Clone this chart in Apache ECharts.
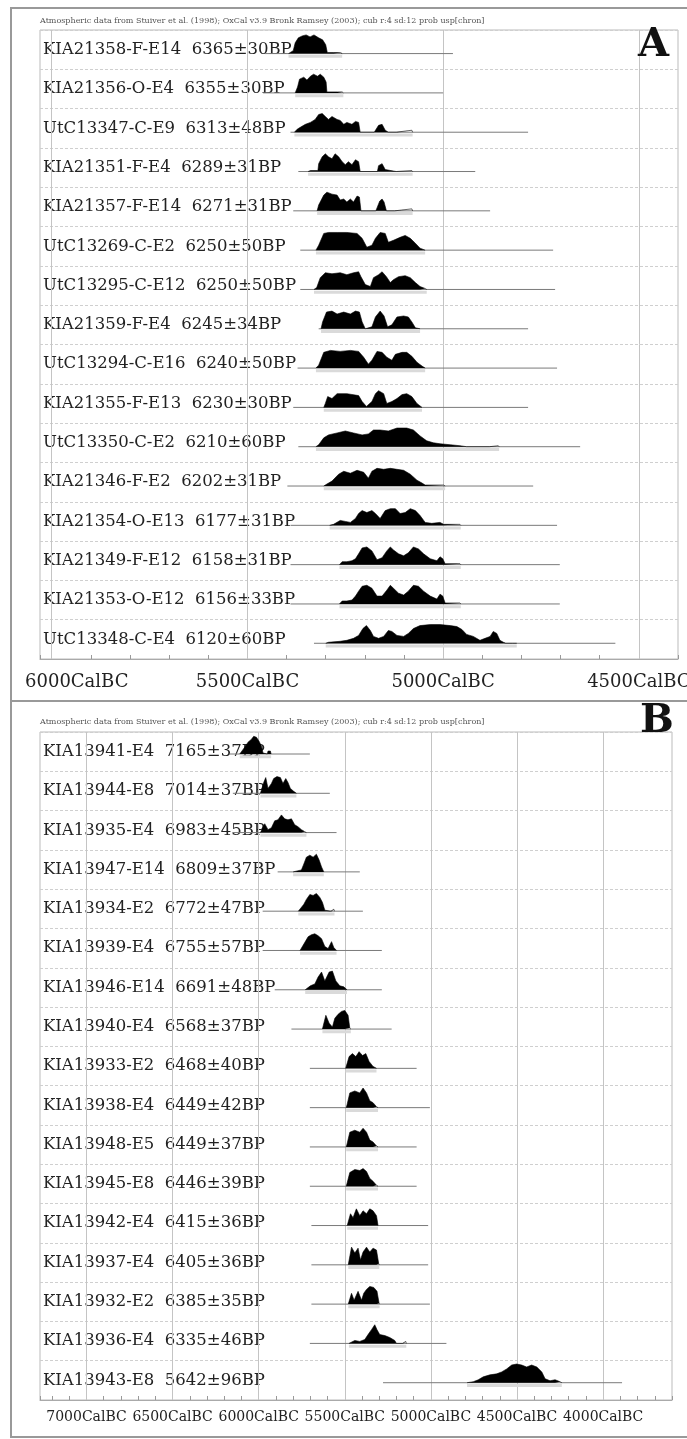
<!DOCTYPE html>
<html>
<head>
<meta charset="utf-8">
<title>Calibrated dates A / B</title>
<script src="https://cdn.jsdelivr.net/npm/echarts@6/dist/echarts.min.js"></script>
<style>
  html, body { margin: 0; padding: 0; background: #fff; }
  #chart { width: 687px; height: 1439px; }
</style>
</head>
<body>
<div id="chart"></div>
<script>
// header line printed above each plot
const headerText = 'Atmospheric data from Stuiver et al. (1998); OxCal v3.9 Bronk Ramsey (2003); cub r:4 sd:12 prob usp[chron]';

// ---- panel A ----
const labelsA = [
  'KIA21358-F-E14  6365±30BP', 'KIA21356-O-E4  6355±30BP', 'UtC13347-C-E9  6313±48BP',
  'KIA21351-F-E4  6289±31BP', 'KIA21357-F-E14  6271±31BP', 'UtC13269-C-E2  6250±50BP',
  'UtC13295-C-E12  6250±50BP', 'KIA21359-F-E4  6245±34BP', 'UtC13294-C-E16  6240±50BP',
  'KIA21355-F-E13  6230±30BP', 'UtC13350-C-E2  6210±60BP', 'KIA21346-F-E2  6202±31BP',
  'KIA21354-O-E13  6177±31BP', 'KIA21349-F-E12  6158±31BP', 'KIA21353-O-E12  6156±33BP',
  'UtC13348-C-E4  6120±60BP'
];
// probability curves: [year BC, relative density]
const distA = [
  [[5395,0],[5383,3],[5378,11],[5370,16],[5360,18],[5350,19],[5340,17],[5330,19],[5318,16],[5308,14],[5300,9],[5296,1],[5280,1],[5262,1],[5258,0]],
  [[5378,0],[5372,6],[5367,14],[5356,16],[5348,13],[5339,17],[5331,19],[5321,17],[5314,19],[5305,16],[5299,11],[5297,1],[5270,1],[5258,1],[5255,0]],
  [[5380,0],[5373,3],[5365,5],[5352,8],[5339,10],[5327,13],[5318,18],[5309,19],[5301,16],[5293,13],[5284,16],[5271,13],[5263,12],[5254,8],[5246,10],[5233,8],[5224,11],[5216,10],[5212,0],[5176,0],[5173,1],[5165,7],[5156,8],[5148,2],[5140,0],[5120,0],[5118,2],[5080,2],[5078,0]],
  [[5345,0],[5339,1],[5320,1],[5318,8],[5309,15],[5301,18],[5293,15],[5284,13],[5276,18],[5267,15],[5258,10],[5250,7],[5242,10],[5233,7],[5224,12],[5216,10],[5212,0],[5168,0],[5165,6],[5156,8],[5148,2],[5145,0],[5120,0],[5118,1],[5080,1],[5078,0]],
  [[5322,0],[5318,6],[5305,16],[5297,19],[5284,17],[5271,16],[5263,11],[5254,12],[5246,9],[5237,12],[5229,9],[5220,15],[5214,14],[5210,0],[5172,0],[5169,3],[5162,10],[5156,12],[5151,9],[5145,0],[5124,0],[5122,2],[5080,2],[5078,0]],
  [[5325,0],[5318,5],[5305,17],[5293,18],[5271,18],[5246,18],[5220,17],[5207,12],[5195,3],[5182,5],[5173,12],[5161,18],[5148,17],[5140,8],[5127,10],[5110,13],[5097,15],[5084,12],[5071,7],[5059,2],[5046,0]],
  [[5330,0],[5323,2],[5314,12],[5301,17],[5284,16],[5263,17],[5246,15],[5229,17],[5216,18],[5210,13],[5199,5],[5186,3],[5178,12],[5165,15],[5156,18],[5145,13],[5135,7],[5127,10],[5114,13],[5097,14],[5084,12],[5071,7],[5059,3],[5046,1],[5042,0]],
  [[5312,0],[5308,7],[5298,17],[5284,18],[5271,15],[5254,17],[5237,15],[5224,18],[5214,17],[5207,7],[5199,0],[5182,2],[5173,12],[5161,18],[5151,13],[5142,2],[5131,4],[5118,12],[5101,13],[5089,12],[5080,7],[5071,1],[5059,0]],
  [[5325,0],[5318,3],[5305,16],[5288,18],[5263,17],[5237,18],[5216,17],[5203,11],[5191,4],[5182,8],[5169,17],[5156,16],[5144,11],[5131,8],[5122,14],[5105,16],[5093,16],[5080,12],[5067,6],[5054,2],[5046,0]],
  [[5305,0],[5301,4],[5295,11],[5284,9],[5271,14],[5246,14],[5216,12],[5207,6],[5196,1],[5182,6],[5173,14],[5165,17],[5152,14],[5144,4],[5131,6],[5118,9],[5105,13],[5093,14],[5080,11],[5067,4],[5054,0]],
  [[5325,0],[5318,2],[5305,9],[5293,12],[5271,14],[5250,16],[5229,14],[5207,12],[5191,13],[5178,17],[5161,17],[5140,16],[5118,19],[5093,19],[5076,17],[5059,11],[5042,6],[5025,4],[5008,3],[4982,2],[4957,1],[4940,0],[4882,0],[4880,1],[4859,1],[4857,0]],
  [[5305,0],[5297,2],[5284,5],[5267,12],[5254,15],[5237,13],[5220,16],[5203,14],[5191,8],[5182,15],[5169,18],[5152,17],[5135,18],[5118,17],[5101,16],[5084,12],[5067,6],[5054,3],[5046,1],[4999,1],[4995,0]],
  [[5290,0],[5280,1],[5263,5],[5250,4],[5237,3],[5224,7],[5216,12],[5207,15],[5195,13],[5182,15],[5173,12],[5161,7],[5148,15],[5135,17],[5122,17],[5110,12],[5097,13],[5084,17],[5071,15],[5059,10],[5046,3],[5029,2],[5008,3],[4999,1],[4957,1],[4955,0]],
  [[5265,0],[5258,3],[5246,3],[5233,4],[5224,6],[5216,11],[5207,17],[5195,18],[5182,14],[5169,5],[5156,7],[5144,14],[5135,18],[5127,15],[5114,11],[5101,9],[5089,12],[5076,18],[5063,16],[5050,11],[5033,6],[5016,4],[5008,8],[5001,6],[4995,1],[4957,1],[4955,0]],
  [[5265,0],[5258,3],[5246,3],[5233,4],[5224,8],[5216,13],[5207,18],[5195,19],[5182,16],[5169,8],[5156,8],[5144,14],[5135,19],[5127,16],[5114,11],[5101,9],[5089,13],[5076,19],[5063,18],[5050,13],[5033,8],[5016,5],[5008,10],[5001,8],[4995,1],[4957,1],[4955,0]],
  [[5300,0],[5293,1],[5263,2],[5246,3],[5229,5],[5216,8],[5205,15],[5196,18],[5186,13],[5178,7],[5165,5],[5152,7],[5140,13],[5131,12],[5118,8],[5101,7],[5089,10],[5076,15],[5059,18],[5033,19],[5008,19],[4982,18],[4965,17],[4952,14],[4940,9],[4923,7],[4906,3],[4893,5],[4880,7],[4872,12],[4863,10],[4855,3],[4846,1],[4840,0],[4823,0],[4821,2],[4812,0]]
];
// thin range line under each curve: [from, to] years BC
const linesA = [
  [5455,4975],[5460,5000],[5390,4783],[5370,4918],[5383,4880],[5365,4719],[5365,4714],[5318,4783],
  [5372,4709],[5383,4783],[5370,4650],[5398,4770],[5390,4709],[5390,4702],[5390,4702],[5330,4560]
];
const gridYearsA = [6000, 5500, 5000, 4500];

// ---- panel B ----
const labelsB = [
  'KIA13941-E4  7165±37BP', 'KIA13944-E8  7014±37BP', 'KIA13935-E4  6983±45BP',
  'KIA13947-E14  6809±37BP', 'KIA13934-E2  6772±47BP', 'KIA13939-E4  6755±57BP',
  'KIA13946-E14  6691±48BP', 'KIA13940-E4  6568±37BP', 'KIA13933-E2  6468±40BP',
  'KIA13938-E4  6449±42BP', 'KIA13948-E5  6449±37BP', 'KIA13945-E8  6446±39BP',
  'KIA13942-E4  6415±36BP', 'KIA13937-E4  6405±36BP', 'KIA13932-E2  6385±35BP',
  'KIA13936-E4  6335±46BP', 'KIA13943-E8  5642±96BP'
];
const distB = [
  [[6110,0],[6100,2],[6081,7],[6062,12],[6042,15],[6029,18],[6013,17],[5998,13],[5984,8],[5975,1],[5950,0],[5946,3],[5932,3],[5928,0]],
  [[5990,0],[5984,1],[5971,11],[5959,16],[5946,5],[5926,10],[5913,15],[5894,17],[5874,16],[5859,10],[5843,15],[5830,11],[5816,5],[5797,2],[5781,0]],
  [[5990,0],[5984,2],[5965,9],[5946,3],[5926,5],[5907,12],[5888,13],[5868,18],[5849,14],[5830,13],[5810,14],[5791,8],[5772,6],[5752,3],[5733,1],[5723,0]],
  [[5800,0],[5791,1],[5752,2],[5738,8],[5723,15],[5703,17],[5684,15],[5665,18],[5649,12],[5635,5],[5622,0]],
  [[5770,0],[5762,1],[5738,7],[5723,12],[5703,17],[5684,16],[5665,18],[5645,14],[5630,9],[5616,1],[5610,0],[5580,0],[5577,2],[5564,2],[5560,0]],
  [[5760,0],[5752,1],[5733,8],[5713,14],[5694,16],[5674,17],[5655,15],[5635,12],[5616,4],[5597,2],[5577,9],[5564,3],[5548,0]],
  [[5730,0],[5723,1],[5700,4],[5674,6],[5655,13],[5635,18],[5616,9],[5591,18],[5572,19],[5552,9],[5529,4],[5506,3],[5487,0]],
  [[5630,0],[5625,1],[5610,14],[5591,6],[5572,2],[5558,11],[5539,15],[5519,18],[5500,19],[5481,14],[5471,1],[5465,0]],
  [[5495,0],[5490,2],[5475,12],[5456,15],[5436,12],[5417,17],[5397,13],[5378,15],[5359,7],[5336,2],[5316,0]],
  [[5492,0],[5487,3],[5471,15],[5442,17],[5413,15],[5394,20],[5374,15],[5355,7],[5336,5],[5316,1],[5307,0]],
  [[5492,0],[5487,3],[5471,15],[5442,17],[5413,15],[5394,19],[5374,15],[5355,7],[5336,5],[5316,1],[5307,0]],
  [[5492,0],[5487,3],[5471,14],[5442,17],[5413,16],[5394,18],[5374,15],[5355,8],[5336,5],[5316,1],[5307,0]],
  [[5486,0],[5481,1],[5467,12],[5452,8],[5433,17],[5413,10],[5394,15],[5374,12],[5355,17],[5336,15],[5316,10],[5307,0]],
  [[5480,0],[5475,2],[5461,18],[5442,12],[5423,17],[5409,5],[5394,13],[5374,18],[5355,13],[5336,17],[5316,15],[5303,1],[5300,0]],
  [[5480,0],[5475,1],[5461,11],[5446,4],[5423,13],[5403,4],[5390,11],[5374,15],[5355,18],[5332,17],[5313,13],[5301,1],[5298,0]],
  [[5476,0],[5471,2],[5442,3],[5413,2],[5384,4],[5365,9],[5345,14],[5326,19],[5313,14],[5297,9],[5268,8],[5239,6],[5210,3],[5200,0],[5165,0],[5162,2],[5146,2],[5143,0]],
  [[4790,0],[4783,2],[4754,1],[4725,3],[4696,6],[4657,8],[4618,9],[4589,11],[4560,14],[4531,18],[4502,19],[4473,18],[4444,16],[4415,18],[4385,16],[4356,11],[4337,4],[4308,2],[4279,3],[4250,1],[4240,0]]
];
const linesB = [
  [6170,5703],[6150,5587],[6150,5548],[5890,5413],[5977,5395],[5977,5285],[5907,5285],[5810,5228],[5703,5083],
  [5703,5006],[5703,5083],[5703,5083],[5694,5016],[5694,5016],[5694,5006],[5703,4910],[5278,3890]
];
const gridYearsB = [7000, 6500, 6000, 5500, 5000, 4500, 4000];

const FONT = 'DejaVu Serif';
const DENSITY_SCALE = 0.025; // density units -> row heights

const chart = echarts.init(document.getElementById('chart'), null, { renderer: 'canvas' });

// builds the series of one panel
function panelSeries(p, dists, lines, gridYears, baseRatio) {
  const yIdx = p * 2;
  const list = [];
  dists.forEach((dist, i) => {
    const base = i + baseRatio;
    // long thin line
    list.push({
      type: 'line', xAxisIndex: p, yAxisIndex: yIdx, silent: true, symbol: 'none', z: 2,
      data: [[lines[i][0], base], [lines[i][1], base]],
      lineStyle: { color: '#7a7a7a', width: 1 },
      markLine: i === 0 ? {
        silent: true, symbol: 'none', label: { show: false }, z: 1,
        lineStyle: { color: '#c4c4c4', type: 'solid', width: 1 },
        data: gridYears.map(v => ({ xAxis: v }))
      } : undefined
    });
    // grey range bar just below the curve
    list.push({
      type: 'line', xAxisIndex: p, yAxisIndex: yIdx, silent: true, symbol: 'none', z: 2,
      data: [[dist[0][0], base + 0.07], [dist[dist.length - 1][0], base + 0.07]],
      lineStyle: { color: '#dadada', width: 3 }
    });
    // the probability curve, filled from its own baseline
    list.push({
      type: 'line', xAxisIndex: p, yAxisIndex: yIdx, silent: true, symbol: 'none', z: 3,
      data: dist.map(d => [d[0], base - d[1] * DENSITY_SCALE]),
      lineStyle: { color: '#000', width: 0.6 },
      areaStyle: { color: '#000', opacity: 1, origin: base }
    });
  });
  return list;
}

function xAxisFor(p, min, max, fontSize, margin, firstShift) {
  return {
    type: 'value', gridIndex: p, min: min, max: max, interval: 100, inverse: true,
    position: 'bottom',
    axisLine: { show: true, onZero: false, lineStyle: { color: '#aaa' } },
    axisTick: { show: true, inside: true, length: 4, lineStyle: { color: '#999' } },
    splitLine: { show: false },
    axisLabel: {
      color: '#222', fontFamily: FONT, fontSize: fontSize, margin: margin,
      // the leftmost label is pushed right to stay inside the frame
      formatter: v => {
        if (v % 500 !== 0) return '';
        return v === firstShift ? '{first|' + v + 'CalBC}' : v + 'CalBC';
      },
      rich: {
        first: { fontFamily: FONT, fontSize: fontSize, color: '#222', padding: [0, 0, 0, 50] }
      }
    }
  };
}

function yAxesFor(p, labels) {
  return [
    {
      type: 'value', gridIndex: p, min: 0, max: labels.length, interval: 1, inverse: true,
      axisLine: { show: false }, axisTick: { show: false }, axisLabel: { show: false },
      splitLine: { show: true, lineStyle: { color: '#cfcfcf', type: [3, 2] } }
    },
    {
      type: 'category', gridIndex: p, data: labels, inverse: true, position: 'left',
      axisLine: { show: false }, axisTick: { show: false }, splitLine: { show: false },
      axisLabel: {
        inside: true, margin: 3, color: '#222', fontFamily: FONT, fontSize: 16.5,
        padding: [5, 0, 0, 0]
      }
    }
  ];
}

const option = {
  animation: false,
  backgroundColor: '#fff',
  title: [
    { text: headerText, left: 40, top: 17, padding: 0,
      textStyle: { fontFamily: FONT, fontSize: 8, fontWeight: 'normal', color: '#555' } },
    { text: 'A', left: 638, top: 26, padding: 0,
      textStyle: { fontFamily: FONT, fontSize: 40, fontWeight: 'bold', color: '#111' } },
    { text: headerText, left: 40, top: 718, padding: 0,
      textStyle: { fontFamily: FONT, fontSize: 8, fontWeight: 'normal', color: '#555' } },
    { text: 'B', left: 640, top: 702, padding: 0,
      textStyle: { fontFamily: FONT, fontSize: 40, fontWeight: 'bold', color: '#111' } }
  ],
  grid: [
    { left: 40, right: 9, top: 30, height: 629, show: true, borderColor: '#bbb', borderWidth: 1,
      outerBoundsMode: 'none', containLabel: false },
    { left: 40, right: 15, top: 732, height: 668, show: true, borderColor: '#bbb', borderWidth: 1,
      outerBoundsMode: 'none', containLabel: false }
  ],
  xAxis: [
    xAxisFor(0, 4400, 6030, 18, 14, 6000),
    xAxisFor(1, 3600, 7270, 14, 10, null)
  ],
  yAxis: [].concat(yAxesFor(0, labelsA), yAxesFor(1, labelsB)),
  graphic: [
    // outer frame and divider between the two plots
    { type: 'rect', silent: true, shape: { x: 11, y: 8, width: 690, height: 1429 },
      style: { fill: 'none', stroke: '#999', lineWidth: 2 } },
    { type: 'line', silent: true, shape: { x1: 11, y1: 701, x2: 687, y2: 701 },
      style: { stroke: '#999', lineWidth: 2 } }
  ],
  series: [].concat(
    panelSeries(0, distA, linesA, gridYearsA, 0.6),
    panelSeries(1, distB, linesB, gridYearsB, 0.56)
  )
};

chart.setOption(option);
</script>
</body>
</html>
